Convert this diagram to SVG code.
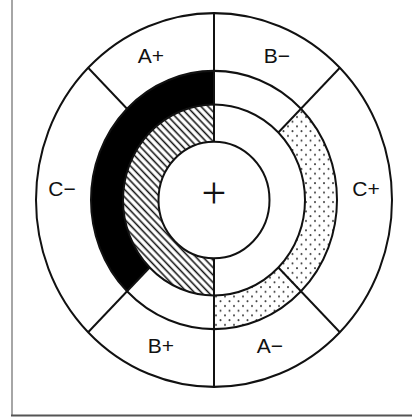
<svg xmlns="http://www.w3.org/2000/svg" width="412" height="419" viewBox="0 0 412 419">
  <defs>
    <pattern id="hatch" patternUnits="userSpaceOnUse" width="5" height="5" patternTransform="rotate(45)">
      <rect width="5" height="5" fill="#fff"/>
      <line x1="0" y1="1.2" x2="5" y2="1.2" stroke="#111" stroke-width="1.5"/>
    </pattern>
    <pattern id="dots" patternUnits="userSpaceOnUse" width="9" height="9">
      <rect width="9" height="9" fill="#fff"/>
      <circle cx="2" cy="2" r="1" fill="#444"/>
      <circle cx="6.5" cy="6.5" r="1" fill="#444"/>
    </pattern>
    <style>
      .ln { fill: none; stroke: #111; stroke-width: 2; }
      .lbl { font-family: "Liberation Sans", Arial, sans-serif; font-size: 21px; fill: #111; text-anchor: middle; }
      .ctr { font-family: "Liberation Serif", "Times New Roman", serif; font-size: 44px; fill: #111; text-anchor: middle; }
    </style>
  </defs>
  <rect width="412" height="419" fill="#fff"/>
  <g id="frame">
    <line x1="12" y1="0" x2="12" y2="416" stroke="#888" stroke-width="1.5"/>
    <line x1="11" y1="415.5" x2="412" y2="415.5" stroke="#555" stroke-width="2"/>
  </g>
  <g id="rings" transform="translate(214,200) scale(1,1.05)">
    <g id="fills">
      <path id="black-sector" d="M 0,-123 A 123 123 0 0 0 -86.97,86.97 L -64.35,64.35 A 91 91 0 0 1 0,-91 Z" fill="#000"/>
      <path id="hatched-sector" d="M 0,-91 A 91 91 0 0 0 0,91 L 0,55.5 A 55.5 55.5 0 0 1 0,-55.5 Z" fill="url(#hatch)"/>
      <path id="dotted-sector" d="M 86.97,-86.97 A 123 123 0 0 1 0,123 L 0,91 A 91 91 0 0 0 64.35,-64.35 Z" fill="url(#dots)"/>
    </g>
    <g id="circles">
      <circle class="ln" r="178"/>
      <circle class="ln" r="123"/>
      <circle class="ln" r="91"/>
      <circle class="ln" r="55.5"/>
    </g>
    <g id="dividers">
      <line class="ln" x1="0" y1="-178" x2="0" y2="-55.5"/>
      <line class="ln" x1="0" y1="55.5" x2="0" y2="178"/>
      <line class="ln" x1="-125.87" y1="-125.87" x2="-86.97" y2="-86.97"/>
      <line class="ln" x1="125.87" y1="-125.87" x2="64.35" y2="-64.35"/>
      <line class="ln" x1="125.87" y1="125.87" x2="64.35" y2="64.35"/>
      <line class="ln" x1="-125.87" y1="125.87" x2="-64.35" y2="64.35"/>
    </g>
  </g>
  <g id="labels">
    <text id="label-a-plus" class="lbl" x="151" y="63">A+</text>
    <text id="label-b-minus" class="lbl" x="277" y="63">B−</text>
    <text id="label-c-minus" class="lbl" x="62" y="196">C−</text>
    <text id="label-c-plus" class="lbl" x="366" y="196">C+</text>
    <text id="label-b-plus" class="lbl" x="161" y="353">B+</text>
    <text id="label-a-minus" class="lbl" x="270" y="353">A−</text>
    <text id="center-plus" class="ctr" x="214" y="207.5">+</text>
  </g>
</svg>
